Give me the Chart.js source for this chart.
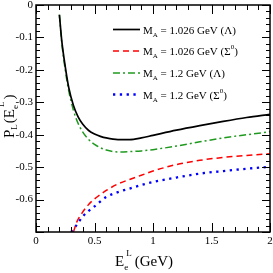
<!DOCTYPE html>
<html>
<head>
<meta charset="UTF-8">
<title>P_L(E_e^L)</title>
<script src="https://cdn.jsdelivr.net/npm/chart.js@4"></script>
<style>
  html, body { margin: 0; padding: 0; background: #fff; }
  #wrap { width: 273px; height: 273px; }
</style>
</head>
<body>
<div id="wrap"><canvas id="c" width="273" height="273"></canvas></div>
<script>
// values
const xLambda = [0.2, 0.22, 0.25, 0.28, 0.32, 0.36, 0.4, 0.45, 0.5, 0.55, 0.6, 0.7, 0.8, 0.9, 1.0, 1.2, 1.4, 1.6, 1.8, 2.0];
const yBlack = [-0.03, -0.11, -0.19, -0.255, -0.31, -0.345, -0.368, -0.387, -0.398, -0.405, -0.41, -0.415, -0.415, -0.41, -0.402, -0.386, -0.372, -0.359, -0.347, -0.337];
const yGreen = [-0.03, -0.115, -0.2, -0.265, -0.325, -0.365, -0.392, -0.415, -0.43, -0.44, -0.447, -0.453, -0.452, -0.45, -0.446, -0.435, -0.422, -0.41, -0.4, -0.391];
const xRed = [0.32, 0.35, 0.4, 0.45, 0.5, 0.6, 0.7, 0.8, 0.9, 1.0, 1.2, 1.4, 1.6, 1.8, 2.0];
const yRed = [-0.7, -0.668, -0.638, -0.615, -0.598, -0.572, -0.552, -0.538, -0.525, -0.512, -0.492, -0.479, -0.47, -0.464, -0.459];
const xBlue = [0.3, 0.35, 0.4, 0.45, 0.5, 0.6, 0.7, 0.8, 0.9, 1.0, 1.2, 1.4, 1.6, 1.8, 2.0];
const yBlue = [-0.7, -0.677, -0.652, -0.635, -0.621, -0.592, -0.577, -0.566, -0.555, -0.546, -0.532, -0.52, -0.512, -0.505, -0.499];

const xTicks = [0, 0.5, 1, 1.5, 2];
const yTicks = [0, -0.1, -0.2, -0.3, -0.4, -0.5, -0.6];

// legend: [value, particle, superscript]
const legendRows = [
  ['1.026', 'Λ', ''],
  ['1.026', 'Σ', '0'],
  ['1.2', 'Λ', ''],
  ['1.2', 'Σ', '0']
];

const SERIF = '"Liberation Serif", "DejaVu Serif", serif';
const pts = (xs, ys) => xs.map((v, i) => ({ x: v, y: ys[i] }));

const series = [
  { data: pts(xLambda, yBlack), borderColor: '#000000', borderWidth: 1.7, borderDash: [] },
  { data: pts(xRed, yRed), borderColor: '#ff0000', borderWidth: 1.5, borderDash: [6, 4] },
  { data: pts(xLambda, yGreen), borderColor: '#1f9a1f', borderWidth: 1.5, borderDash: [7, 3, 2, 3] },
  { data: pts(xBlue, yBlue), borderColor: '#0000ff', borderWidth: 2.3, borderDash: [2.3, 4.5] }
];

// box, inward ticks, legend and axis titles
const decor = {
  id: 'decor',
  afterDraw(chart) {
    const { ctx, chartArea: a, scales: { x, y } } = chart;
    ctx.save();
    ctx.strokeStyle = '#000';
    ctx.lineWidth = 1;
    ctx.beginPath();
    for (let i = 0; i <= 20; i++) {
      const px = Math.round(x.getPixelForValue(i / 10)) + 0.5;
      const len = i % 5 === 0 ? 9 : 5;
      ctx.moveTo(px, a.bottom); ctx.lineTo(px, a.bottom - len);
      ctx.moveTo(px, a.top); ctx.lineTo(px, a.top + len);
    }
    for (let i = 0; i <= 35; i++) {
      const py = Math.round(y.getPixelForValue(-i / 50)) + 0.5;
      const len = i % 5 === 0 ? 8 : 4;
      ctx.moveTo(a.left, py); ctx.lineTo(a.left + len, py);
      ctx.moveTo(a.right, py); ctx.lineTo(a.right - len, py);
    }
    ctx.stroke();
    ctx.lineWidth = 1.5;
    ctx.strokeRect(a.left, a.top, a.right - a.left, a.bottom - a.top);

    // legend
    const rowY = [29.5, 51, 73, 94.5];
    ctx.fillStyle = '#000';
    ctx.textBaseline = 'alphabetic';
    legendRows.forEach((r, i) => {
      const s = series[i], yy = rowY[i];
      ctx.beginPath();
      ctx.strokeStyle = s.borderColor;
      ctx.lineWidth = s.borderWidth;
      ctx.setLineDash(s.borderDash);
      ctx.moveTo(113, yy); ctx.lineTo(140, yy);
      ctx.stroke();
      ctx.setLineDash([]);
      let tx = 143;
      const by = yy + 4;
      ctx.font = '11px ' + SERIF;
      ctx.fillText('M', tx, by); tx += ctx.measureText('M').width;
      ctx.font = '7px ' + SERIF;
      ctx.fillText('A', tx, by + 3); tx += ctx.measureText('A').width;
      ctx.font = '11px ' + SERIF;
      const t = ' = ' + r[0] + ' GeV (' + r[1];
      ctx.fillText(t, tx, by); tx += ctx.measureText(t).width;
      if (r[2]) {
        ctx.font = '7px ' + SERIF;
        ctx.fillText(r[2], tx, by - 6); tx += ctx.measureText(r[2]).width;
        ctx.font = '11px ' + SERIF;
      }
      ctx.fillText(')', tx, by);
    });

    // x title: E_e^L (GeV)
    ctx.font = '15px ' + SERIF;
    let tx = 115;
    const bx = 266;
    ctx.fillText('E', tx, bx); tx += ctx.measureText('E').width;
    ctx.font = '9px ' + SERIF;
    ctx.fillText('e', tx, bx + 4);
    ctx.fillText('L', tx + 2, bx - 10); tx += ctx.measureText('L').width + 5;
    ctx.font = '15px ' + SERIF;
    ctx.fillText('(GeV)', tx, bx);

    // y title: P_L (E_e^L), rotated
    ctx.translate(14, 138);
    ctx.rotate(-Math.PI / 2);
    let ty = 0;
    ctx.font = '15px ' + SERIF;
    ctx.fillText('P', ty, 0); ty += ctx.measureText('P').width;
    ctx.font = '9px ' + SERIF;
    ctx.fillText('L', ty, 3); ty += ctx.measureText('L').width + 1;
    ctx.font = '15px ' + SERIF;
    ctx.fillText('(E', ty, 0); ty += ctx.measureText('(E').width;
    ctx.font = '9px ' + SERIF;
    ctx.fillText('e', ty, 4);
    ctx.fillText('L', ty + 2, -10); ty += ctx.measureText('L').width + 4;
    ctx.font = '15px ' + SERIF;
    ctx.fillText(')', ty, 0);
    ctx.restore();
  }
};

new Chart(document.getElementById('c'), {
  type: 'line',
  data: {
    datasets: series.map(s => ({
      data: s.data,
      borderColor: s.borderColor,
      borderWidth: s.borderWidth,
      borderDash: s.borderDash,
      pointRadius: 0,
      fill: false,
      cubicInterpolationMode: 'monotone'
    }))
  },
  options: {
    responsive: false,
    animation: false,
    events: [],
    layout: { padding: { top: 5, right: 3, left: 0, bottom: 0 } },
    plugins: { legend: { display: false }, tooltip: { enabled: false } },
    scales: {
      x: {
        type: 'linear',
        min: 0, max: 2,
        grid: { display: false, drawTicks: false },
        border: { display: false },
        afterBuildTicks: s => { s.ticks = xTicks.map(v => ({ value: v })); },
        afterFit: s => { s.height = 41; s.paddingLeft = 0; s.paddingRight = 0; },
        ticks: {
          padding: 3,
          color: '#000',
          font: { family: SERIF, size: 11 },
          maxRotation: 0,
          callback: v => String(v)
        }
      },
      y: {
        type: 'linear',
        min: -0.7, max: 0,
        grid: { display: false, drawTicks: false },
        border: { display: false },
        afterBuildTicks: s => { s.ticks = yTicks.map(v => ({ value: v })); },
        afterFit: s => { s.width = 36; s.paddingTop = 0; s.paddingBottom = 0; },
        ticks: {
          padding: 3,
          color: '#000',
          font: { family: SERIF, size: 11 },
          callback: v => String(v)
        }
      }
    }
  },
  plugins: [decor]
});
</script>
</body>
</html>
